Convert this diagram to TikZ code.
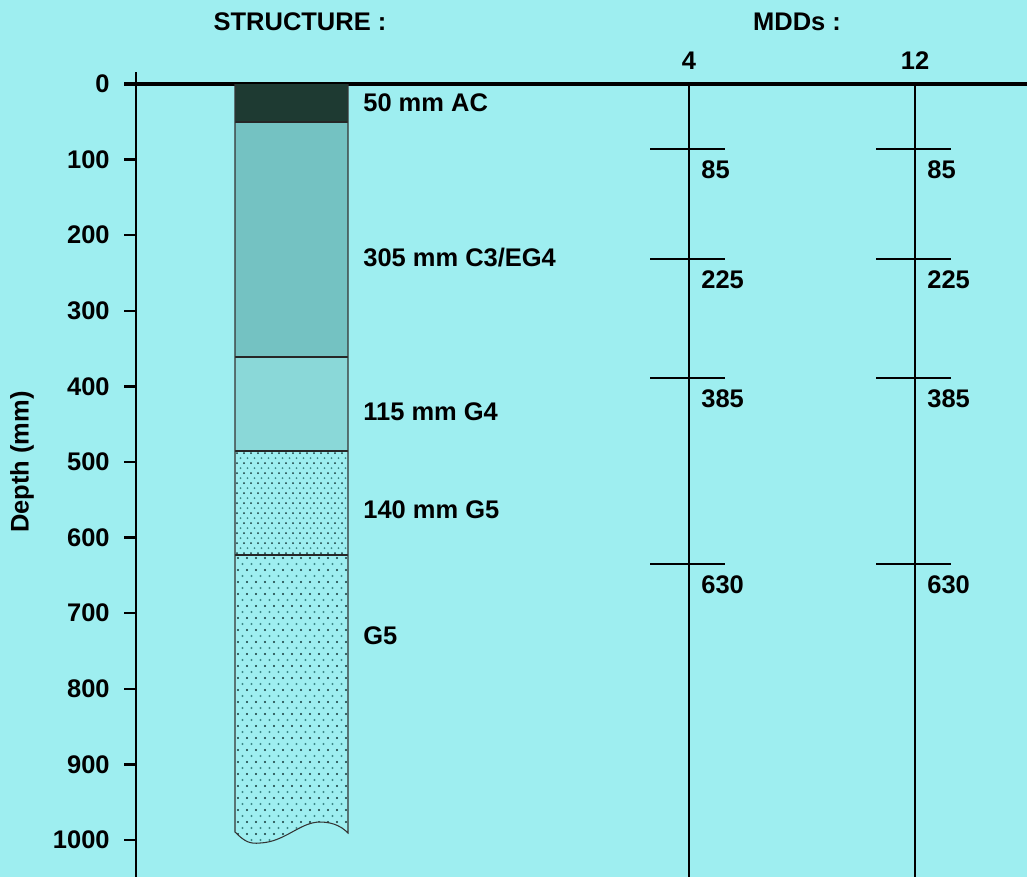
\documentclass[tikz,border=0pt]{standalone}
\usepackage{fontspec}
\setmainfont{Liberation Sans}
\usetikzlibrary{positioning}

\definecolor{bgcyan}{RGB}{158,238,240}
\definecolor{acdark}{RGB}{30,58,50}
\definecolor{cthree}{RGB}{116,194,194}
\definecolor{gfour}{RGB}{138,216,216}
\definecolor{dotdark}{RGB}{20,55,55}
\definecolor{dotlight}{RGB}{60,135,135}

\begin{document}
\begin{tikzpicture}[x=0.02cm,y=-0.02cm,
  txt/.style={font=\fontsize{14.5}{17}\selectfont\bfseries,inner sep=0pt},
  depth label/.style={txt,anchor=east},
  layer label/.style={txt,anchor=west},
  mdd label/.style={txt,anchor=north west},
  axis line/.style={line width=1.4pt},
  layer edge/.style={draw=black!85,line width=0.8pt}]

  \fill[bgcyan] (0,0) rectangle (1027,877);
  \useasboundingbox (0,0) rectangle (1027,877);

  % titles
  \node[txt] (structure) at (300,22) {STRUCTURE :};
  \node[txt] (mdds) at (797,22) {MDDs :};
  \node[txt,rotate=90] (depthtitle) at (22,462) {Depth (mm)};

  % depth axis
  \draw[line width=1.8pt] (124,84) -- (1027,84);
  \draw[axis line] (136,72) -- (136,877);
  \foreach \d in {0,100,...,1000}{
    \draw[axis line] (124,{84+0.756*\d}) -- (136,{84+0.756*\d});
    \node[depth label] (d\d) at (110,{84+0.756*\d}) {\d};
  }

  % pavement structure
  \fill[acdark] (235,84) rectangle (348,122);
  \fill[cthree] (235,122) rectangle (348,357);
  \fill[gfour] (235,357) rectangle (348,451);
  \begin{scope}
    \clip (235,451) rectangle (348,555);
    \foreach \r in {0,...,21}
      \foreach \c in {0,...,16}
        \fill[\ifodd\r dotlight\else dotdark\fi]
          ({237+7*\c+3.5*mod(\r,2)},{453+5*\r}) circle (1);
  \end{scope}
  \begin{scope}
    \clip (235,555) -- (235,832)
      .. controls (245,842) and (250,844) .. (260,843)
      .. controls (285,842) and (300,822) .. (320,822)
      .. controls (335,822) and (343,828) .. (348,833) -- (348,555) -- cycle;
    \foreach \r in {0,...,48}
      \foreach \c in {0,...,13}
        \fill[\ifodd\r dotlight\else dotdark\fi]
          ({238+9*\c+4.5*mod(\r,2)},{558+6*\r}) circle (1.1);
  \end{scope}
  \foreach \y in {122,357,451,555}
    \draw[layer edge] (235,\y) -- (348,\y);
  \draw[black!80,line width=0.6pt] (235,84) -- (235,832)
    .. controls (245,842) and (250,844) .. (260,843)
    .. controls (285,842) and (300,822) .. (320,822)
    .. controls (335,822) and (343,828) .. (348,833) -- (348,84);

  % layer names
  \node[layer label] (ac) at (363,103) {50 mm AC};
  \node[layer label] (c3) at (363,258) {305 mm C3/EG4};
  \node[layer label] (g4) at (363,412) {115 mm G4};
  \node[layer label] (g5a) at (363,510) {140 mm G5};
  \node[layer label] (g5b) at (363,636) {G5};

  % MDD profiles
  \foreach \x/\n in {689/4,915/12}{
    \coordinate (top\n) at (\x,84);
    \node[txt,above=8pt of top\n] (mdd\n) {\n};
    \draw[line width=1.1pt] (top\n) -- (\x,877);
    \foreach \y/\v in {149/85,259/225,378/385,564/630}{
      \draw[line width=1.1pt] (\x-39,\y) -- (\x+36,\y);
      \node[mdd label] (m\n-\v) at (\x+12,\y+11) {\v};
    }
  }
\end{tikzpicture}
\end{document}
